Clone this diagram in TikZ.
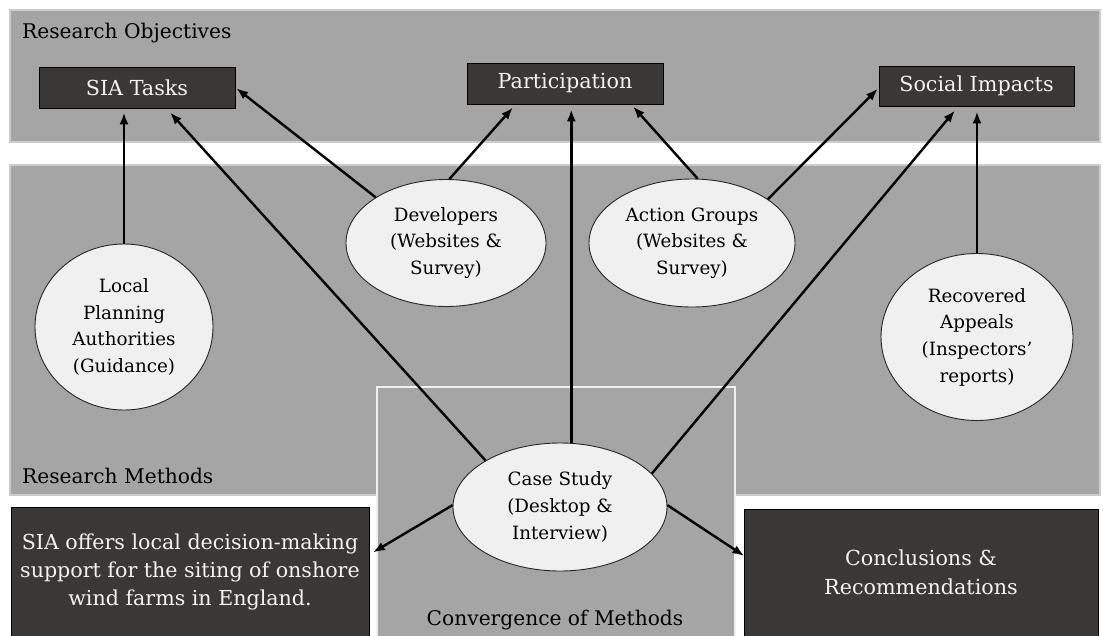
\documentclass[tikz,border=0pt]{standalone}
\usepackage{fontspec}
\setmainfont{DejaVu Serif}
\usetikzlibrary{shapes.geometric,arrows.meta,calc}
\definecolor{panel}{HTML}{A5A5A5}
\definecolor{dark}{HTML}{3A3836}
\definecolor{light}{HTML}{F0F0F0}
\definecolor{txtw}{HTML}{F2F2F2}
\begin{document}
\begin{tikzpicture}[x=1pt,y=-1pt,
  panelbox/.style={fill=panel,draw=white!80!black,line width=1.5pt},
  convbox/.style={fill=panel,draw=white!94!black,line width=1.5pt},
  darkbox/.style={rectangle,fill=dark,draw=black,line width=0.8pt,text=txtw,inner sep=0pt,align=center},
  oval/.style={ellipse,fill=light,draw=black!85,line width=0.9pt,inner sep=0pt,align=center,font=\fontsize{18.3}{26.7}\selectfont},
  arr/.style={line width=2.4pt,-{Latex[length=12pt,width=9pt]}},
  lbl/.style={inner sep=0pt,font=\fontsize{20.2}{24}\selectfont,text=black}]
\useasboundingbox (0,0) rectangle (1103,635);
\clip (0,0) rectangle (1103,635);
\fill[white] (0,0) rectangle (1103,635);
% panels
\draw[panelbox] (10,10) rectangle (1100,142);
\draw[panelbox] (10,165) rectangle (1100,495);
\draw[convbox] (377,387) rectangle (735,645);
\node[lbl,anchor=base west] (lobj) at (22,38) {Research Objectives};
\node[lbl,anchor=base west] (lmet) at (22,483) {Research Methods};
\node[lbl,anchor=base] (lconv) at (555,625) {Convergence of Methods};
% objective boxes
\node[darkbox,minimum width=196pt,minimum height=41pt,font=\fontsize{20.7}{24}\selectfont] (sia) at (137,87.5) {SIA Tasks};
\node[darkbox,minimum width=196pt,minimum height=41pt,font=\fontsize{20.7}{24}\selectfont] (part) at (565,83.5) {Participation};
\node[darkbox,minimum width=195pt,minimum height=40pt,font=\fontsize{20.7}{24}\selectfont] (soc) at (976.5,86) {Social Impacts};
% bottom boxes
\node[darkbox,minimum width=358pt,minimum height=129pt,font=\fontsize{20.6}{28}\selectfont] (offer) at (190,571.5) {SIA offers local decision-making\\support for the siting of onshore\\wind farms in England.};
\node[darkbox,minimum width=354pt,minimum height=127pt,font=\fontsize{20.7}{29}\selectfont] (conc) at (921,572.5) {Conclusions \&\\Recommendations};
% ellipses
\node[oval,minimum width=178pt,minimum height=166pt] (lpa) at (124,327) {Local\\Planning\\Authorities\\(Guidance)};
\node[oval,minimum width=200pt,minimum height=127pt] (dev) at (446,243) {Developers\\(Websites \&\\Survey)};
\node[oval,minimum width=206pt,minimum height=128pt] (ag) at (692,243) {Action Groups\\(Websites \&\\Survey)};
\node[oval,minimum width=192pt,minimum height=167pt] (ra) at (977,337) {Recovered\\Appeals\\(Inspectors’\\reports)};
\node[oval,minimum width=214pt,minimum height=128pt] (cs) at (560,507) {Case Study\\(Desktop \&\\Interview)};
% connectors
\draw[arr,shorten >=4pt] (lpa.north) -- (lpa.north |- sia.south);
\draw[arr] (cs.148.5) -- ([xshift=33pt,yshift=-4pt]sia.south);
\draw[arr,shorten >=1pt] (dev.147.5) -- (sia.east);
\draw[arr] (dev.87) -- ([xshift=-52pt,yshift=-3pt]part.south);
\draw[arr,shorten >=5pt] (cs.80) -- (cs.80 |- part.south);
\draw[arr] (ag.85.5) -- ([xshift=68pt,yshift=-2pt]part.south);
\draw[arr,shorten >=1pt] (ag.30) -- ([yshift=-2pt]soc.west);
\draw[arr] (cs.20) -- ([xshift=-21.5pt,yshift=-4pt]soc.south);
\draw[arr,shorten >=5pt] (ra.north) -- (ra.north |- soc.south);
\draw[arr,shorten >=4pt] (cs.179) -- ([yshift=17pt]offer.east);
\draw[arr,shorten >=-1pt] (cs.1) -- ([yshift=17pt]conc.west);
\end{tikzpicture}
\end{document}
